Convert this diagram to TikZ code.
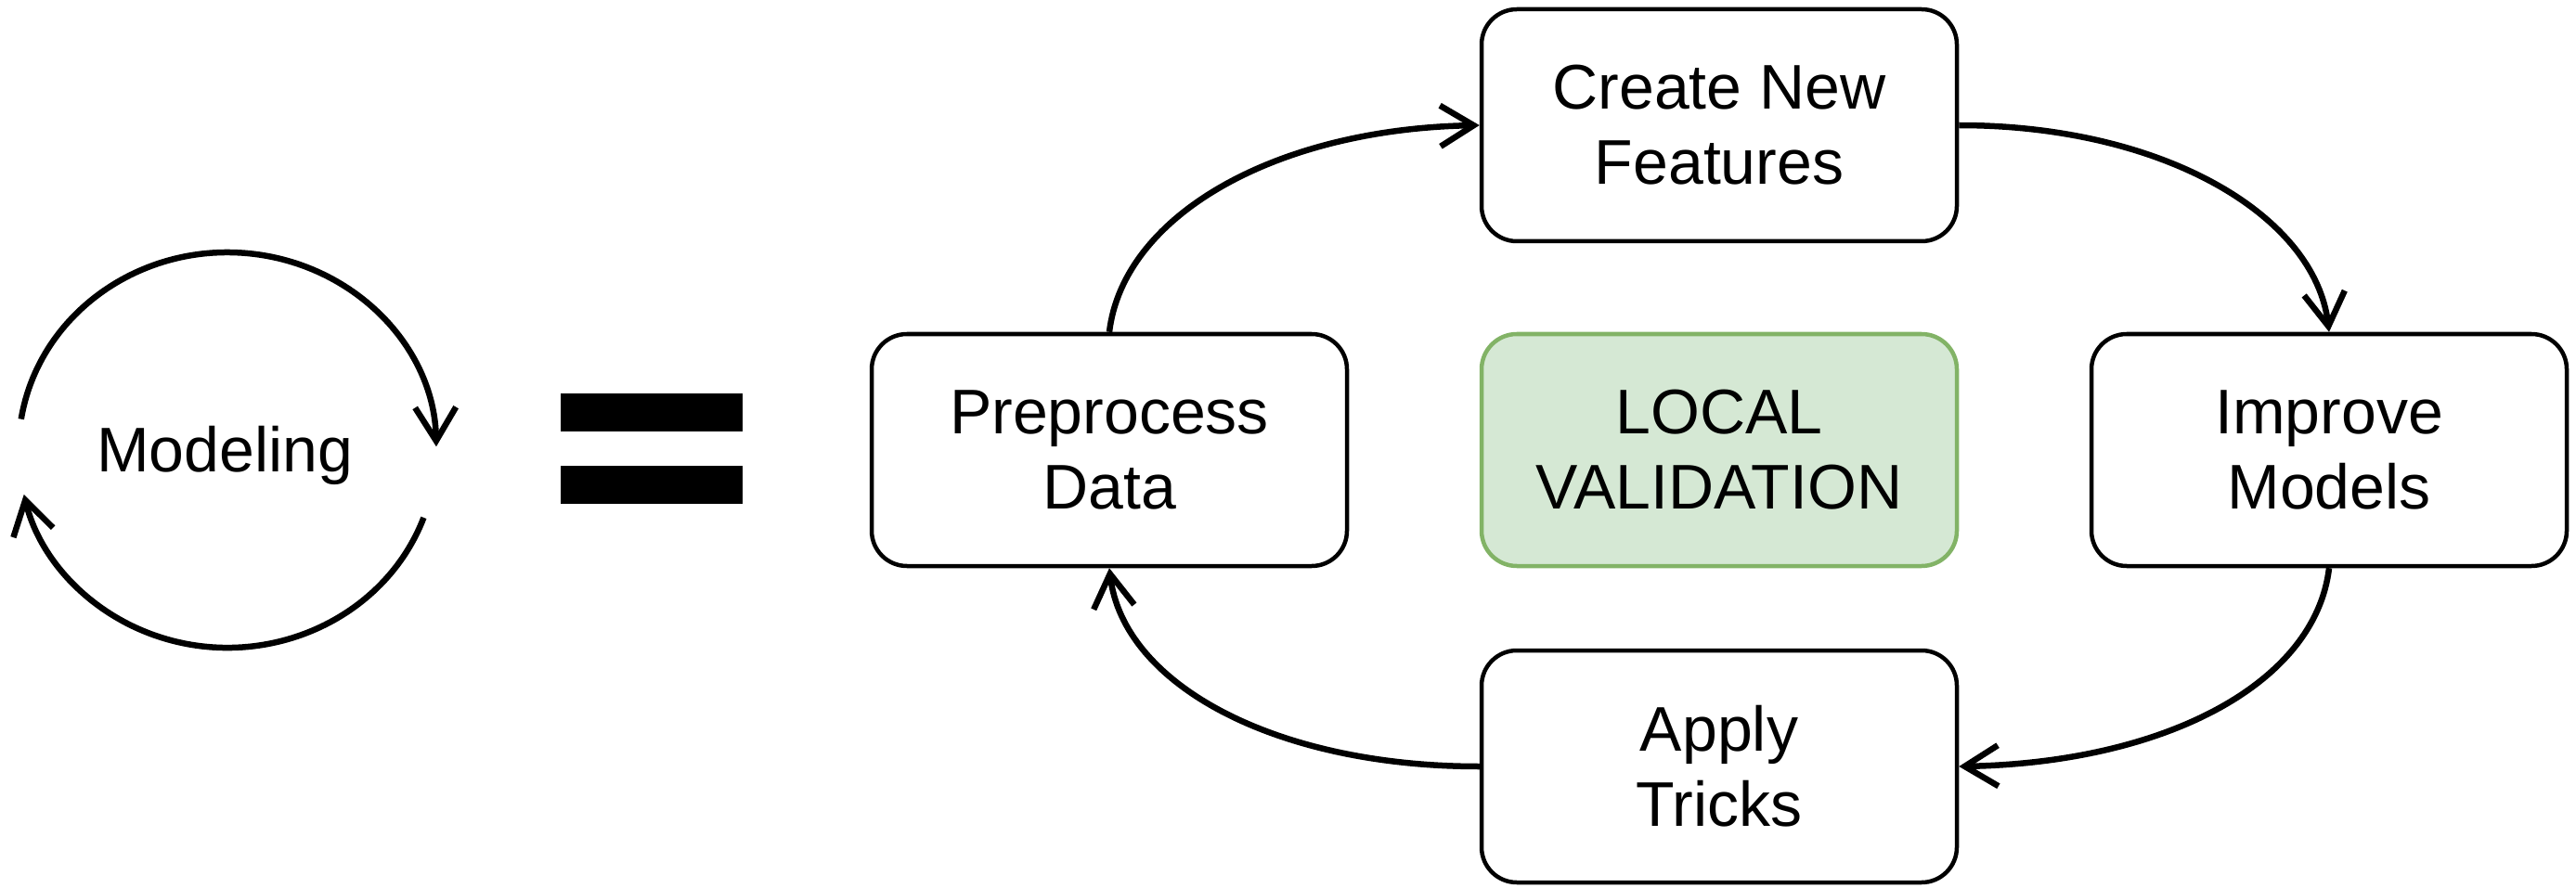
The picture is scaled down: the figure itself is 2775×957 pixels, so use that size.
\documentclass[tikz,border=0pt]{standalone}
\usepackage{fontspec}
\setmainfont{Liberation Sans}
\usetikzlibrary{arrows.meta}
\definecolor{valfill}{HTML}{D5E8D4}
\definecolor{valline}{HTML}{82B366}
\newcommand\lblfont{\fontsize{68}{81}\selectfont}
\begin{document}
\begin{tikzpicture}[x=1pt,y=-1pt,
  stepbox/.style={draw=black, line width=4.5pt, rounded corners=38pt,
    minimum width=512pt, minimum height=250pt, inner sep=0pt,
    align=center, font=\lblfont},
  valbox/.style={stepbox, draw=valline, fill=valfill},
  conn/.style={line width=6.5pt, -{Straight Barb[length=36pt,width=44pt]}},
  bar/.style={fill=black, minimum width=196pt, minimum height=41pt, inner sep=0pt}]
\useasboundingbox (0,0) rectangle (2775,957);

% "Modeling" with its circular pair of arrows
\node[font=\lblfont, anchor=base] (mod) at (242,508) {Modeling};
\coordinate (mc) at (245,485);
\draw[conn] (mc) ++(-171:225 and 213)
  arc[start angle=-171, end angle=-1, x radius=225, y radius=213];
\draw[conn] (mc) ++(20:225 and 213)
  arc[start angle=20, end angle=167, x radius=225, y radius=213];

% equals sign
\node[bar] (eqa) at (702,444.5) {};
\node[bar] (eqb) at (702,522) {};

% the cycle of steps
\node[stepbox] (pre) at (1195,485) {Preprocess\\Data};
\node[stepbox] (cre) at (1852,135) {Create New\\Features};
\node[valbox]  (loc) at (1852,485) {LOCAL\\VALIDATION};
\node[stepbox] (imp) at (2509,485) {Improve\\Models};
\node[stepbox] (app) at (1852,826) {Apply\\Tricks};

% quarter-ellipse shaped connectors around the centre
\draw[conn] (pre.north) .. controls +(15,-125) and +(-221,4) .. (cre.west);
\draw[conn] (cre.east) .. controls +(221,0) and +(-15,-125) .. (imp.north);
\draw[conn] (imp.south) .. controls +(-15,125) and +(221,-4) .. (app.east);
\draw[conn] (app.west) .. controls +(-221,0) and +(15,125) .. (pre.south);
\end{tikzpicture}
\end{document}
